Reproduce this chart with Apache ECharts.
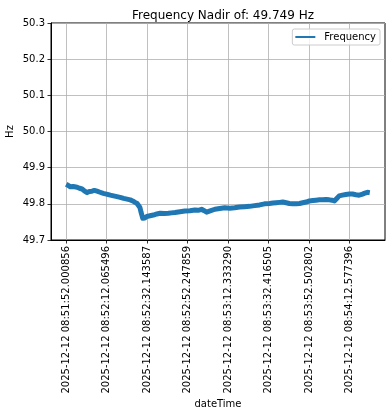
<!DOCTYPE html>
<html>
<head>
<meta charset="utf-8">
<script src="https://cdn.jsdelivr.net/npm/echarts@6/dist/echarts.min.js"></script>
<style>html,body{margin:0;padding:0;background:#fff}#c{width:392px;height:416px}</style>
</head>
<body>
<div id="c"></div>
<script>
// seconds since 2025-12-12 08:51:52.000856
var seconds = [0, 1.0, 2.1, 3.5, 5.4, 6.6, 7.9, 9.0, 10.4, 11.5, 12.8, 14.0, 15.3, 16.8, 18.4, 20.0, 21.9, 23.5, 25.2, 26.8, 28.5, 30.2, 31.8, 33.0, 34.2, 35.2, 35.9, 36.6, 37.1, 37.6, 38.0, 38.4, 39.0, 40.0, 41.6, 43.3, 45.0, 46.6, 48.6, 50.7, 52.3, 54.0, 56.5, 58.9, 61.4, 63.9, 65.5, 67.2, 68.5, 69.7, 71.8, 73.8, 76.2, 78.7, 81.2, 83.6, 86.1, 88.6, 91.0, 93.5, 96.0, 98.5, 100.9, 102.6, 104.2, 105.9, 107.5, 109.2, 110.8, 112.5, 114.1, 115.8, 117.4, 119.1, 120.7, 122.4, 124.0, 125.7, 127.3, 129.0, 130.6, 131.9, 133.1, 134.3, 135.5, 137.1, 138.8, 140.5, 142.1, 143.8, 145.4, 146.7, 147.9, 149.5, 150.7];
var freq = [49.854, 49.851, 49.847, 49.848, 49.846, 49.843, 49.841, 49.836, 49.831, 49.834, 49.835, 49.837, 49.835, 49.832, 49.829, 49.827, 49.824, 49.822, 49.820, 49.818, 49.815, 49.813, 49.811, 49.808, 49.804, 49.801, 49.797, 49.790, 49.778, 49.768, 49.760, 49.757, 49.761, 49.765, 49.767, 49.769, 49.772, 49.774, 49.773, 49.774, 49.775, 49.776, 49.778, 49.780, 49.781, 49.783, 49.782, 49.785, 49.781, 49.777, 49.781, 49.785, 49.787, 49.789, 49.788, 49.789, 49.791, 49.792, 49.793, 49.795, 49.797, 49.800, 49.801, 49.802, 49.803, 49.804, 49.805, 49.803, 49.801, 49.800, 49.800, 49.801, 49.803, 49.805, 49.808, 49.809, 49.810, 49.811, 49.811, 49.812, 49.811, 49.810, 49.808, 49.815, 49.822, 49.824, 49.826, 49.827, 49.827, 49.825, 49.824, 49.826, 49.829, 49.832, 49.831];
var tickSeconds = [0, 20.06464, 40.142731, 60.247003, 80.332434, 100.415649, 120.501946, 140.57654];
var tickLabels = ["2025-12-12 08:51:52.000856", "2025-12-12 08:52:12.065496", "2025-12-12 08:52:32.143587", "2025-12-12 08:52:52.247859", "2025-12-12 08:53:12.333290", "2025-12-12 08:53:32.416505", "2025-12-12 08:53:52.502802", "2025-12-12 08:54:12.577396"];
var yTicks = [49.7, 49.8, 49.9, 50.0, 50.1, 50.2, 50.3];

var font = "DejaVu Sans";
var chart = echarts.init(document.getElementById('c'), null, {renderer: 'canvas'});
var span = seconds[seconds.length - 1] - seconds[0];
chart.setOption({
  animation: false,
  backgroundColor: '#fff',
  title: {
    text: 'Frequency Nadir of: 49.749 Hz',
    left: 218, top: 5, textAlign: 'center',
    textStyle: {fontFamily: font, fontSize: 12, fontWeight: 'normal', color: '#000'}
  },
  legend: {
    data: ['Frequency'],
    right: 12, top: 29,
    padding: [3, 4, 3, 3],
    borderColor: '#cccccc', borderWidth: 1, borderRadius: 2,
    backgroundColor: 'rgba(255,255,255,0.8)',
    itemWidth: 20, itemHeight: 2, icon: 'rect',
    textStyle: {fontFamily: font, fontSize: 10, color: '#000', padding: [0, 0, 0, 4]}
  },
  grid: {left: 51, right: 7, top: 23, bottom: 176, show: true, borderColor: '#000', borderWidth: 1, containLabel: false, outerBoundsMode: 'none'},
  xAxis: {
    type: 'value',
    min: seconds[0] - span * 0.05,
    max: seconds[seconds.length - 1] + span * 0.05,
    name: 'dateTime', nameLocation: 'middle', nameGap: 159, nameMoveOverlap: false,
    nameTextStyle: {fontFamily: font, fontSize: 10, color: '#000'},
    axisLine: {show: true, onZero: false, lineStyle: {color: '#000', width: 1}},
    axisTick: {show: true, length: 3.5, inside: false, customValues: tickSeconds, lineStyle: {color: '#000', width: 0.8}},
    axisLabel: {
      customValues: tickSeconds, rotate: 90, margin: 6,
      fontFamily: font, fontSize: 10, color: '#000',
      formatter: function (v) { var i = tickSeconds.indexOf(v); return i >= 0 ? tickLabels[i] : ''; }
    },
    splitLine: {show: true, lineStyle: {color: '#b0b0b0', width: 0.8}}
  },
  yAxis: {
    type: 'value', min: yTicks[0], max: yTicks[yTicks.length - 1], interval: 0.1,
    name: 'Hz', nameLocation: 'middle', nameGap: 36, nameRotate: 90, nameMoveOverlap: false,
    nameTextStyle: {fontFamily: font, fontSize: 10, color: '#000'},
    axisLine: {show: true, onZero: false, lineStyle: {color: '#000', width: 1}},
    axisTick: {show: true, length: 3.5, lineStyle: {color: '#000', width: 0.8}},
    axisLabel: {fontFamily: font, fontSize: 10, color: '#000', margin: 6, formatter: function (v) { return v.toFixed(1); }},
    splitLine: {show: true, lineStyle: {color: '#b0b0b0', width: 0.8}}
  },
  series: [{
    name: 'Frequency', type: 'line', symbol: 'none', showSymbol: false,
    data: seconds.map(function (s, i) { return [s, freq[i]]; }),
    lineStyle: {color: '#1f77b4', width: 5, join: 'round'},
    itemStyle: {color: '#1f77b4'}
  }]
});
</script>
</body>
</html>
